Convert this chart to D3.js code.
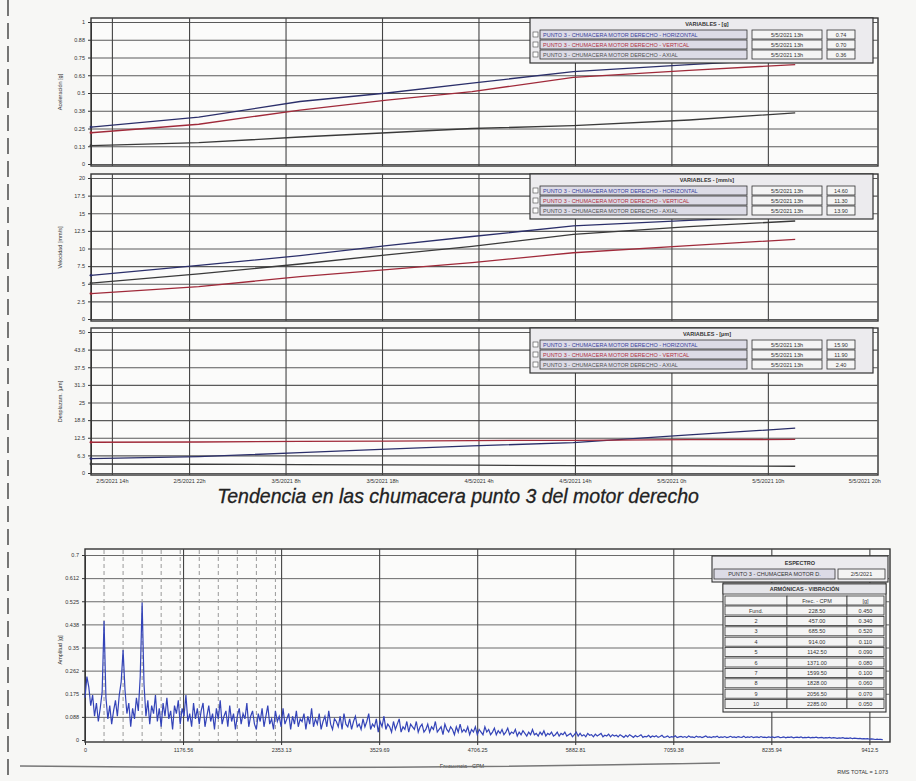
<!DOCTYPE html>
<html>
<head>
<meta charset="utf-8">
<script src="https://cdn.jsdelivr.net/npm/d3@7"></script>
<style>
body { margin: 0; background: #f7f7f5; }
svg { display: block; font-family: "Liberation Sans", Arial, sans-serif; }
</style>
</head>
<body>
<svg id="chart" width="916" height="781"></svg>
<script>
// ---- trend data (3 panels, 3 series each) ----
const sampleTimes = ["2021-05-02 11:50", "2021-05-02 23:00", "2021-05-03 09:30", "2021-05-03 18:30",
  "2021-05-04 03:20", "2021-05-04 13:50", "2021-05-05 01:50", "2021-05-05 12:50"];

const accelHor = [0.26, 0.33, 0.44, 0.50, 0.57, 0.65, 0.70, 0.74];
const accelVer = [0.22, 0.28, 0.38, 0.45, 0.51, 0.61, 0.66, 0.70];
const accelAxi = [0.13, 0.15, 0.19, 0.22, 0.25, 0.27, 0.31, 0.36];

const velHor = [6.2, 7.6, 9.0, 10.4, 11.7, 13.2, 14.0, 14.6];
const velAxi = [5.1, 6.4, 7.8, 9.1, 10.3, 12.0, 13.1, 13.9];
const velVer = [3.6, 4.6, 6.0, 7.0, 8.0, 9.4, 10.4, 11.3];

const despHor = [5.1, 5.8, 7.2, 8.5, 9.6, 10.8, 13.5, 15.9];
const despVer = [10.9, 11.0, 11.2, 11.3, 11.5, 11.6, 11.8, 11.9];
const despAxi = [3.2, 3.1, 3.0, 2.9, 2.8, 2.6, 2.5, 2.4];

const seriesNames = ["PUNTO 3 - CHUMACERA MOTOR DERECHO - HORIZONTAL",
  "PUNTO 3 - CHUMACERA MOTOR DERECHO - VERTICAL",
  "PUNTO 3 - CHUMACERA MOTOR DERECHO - AXIAL"];
const lastDate = "5/5/2021 13h";

const accelTicks = [0, 0.125, 0.25, 0.375, 0.5, 0.625, 0.75, 0.875, 1];
const accelTickLabels = ["0", "0.13", "0.25", "0.38", "0.5", "0.63", "0.75", "0.88", "1"];
const velTicks = [0, 2.5, 5, 7.5, 10, 12.5, 15, 17.5, 20];
const velTickLabels = ["0", "2.5", "5", "7.5", "10", "12.5", "15", "17.5", "20"];
const despTicks = [0, 6.25, 12.5, 18.75, 25, 31.25, 37.5, 43.75, 50];
const despTickLabels = ["0", "6.3", "12.5", "18.8", "25", "31.3", "37.5", "43.8", "50"];

const timeTicks = ["2021-05-02 14:00", "2021-05-02 22:00", "2021-05-03 08:00", "2021-05-03 18:00",
  "2021-05-04 04:00", "2021-05-04 14:00", "2021-05-05 00:00", "2021-05-05 10:00", "2021-05-05 20:00"];
const timeTickLabels = ["2/5/2021 14h", "2/5/2021 22h", "3/5/2021 8h", "3/5/2021 18h",
  "4/5/2021 4h", "4/5/2021 14h", "5/5/2021 0h", "5/5/2021 10h", "5/5/2021 20h"];

// ---- spectrum data ----
const specStep = 22.85; // CPM per bin
const specAmp = [
  0.16, 0.24, 0.20, 0.13, 0.17, 0.09, 0.14, 0.07, 0.12, 0.18, 0.45, 0.16, 0.08, 0.13, 0.06, 0.11, 0.15, 0.09, 0.17, 0.22,
  0.34, 0.19, 0.10, 0.14, 0.05, 0.12, 0.08, 0.16, 0.11, 0.24, 0.52, 0.21, 0.09, 0.15, 0.06, 0.13, 0.10, 0.17, 0.07, 0.12,
  0.05, 0.14, 0.09, 0.16, 0.08, 0.11, 0.04, 0.13, 0.10, 0.15, 0.06, 0.12, 0.09, 0.17, 0.07, 0.10, 0.05, 0.14, 0.08, 0.12,
  0.06, 0.11, 0.14, 0.05, 0.09, 0.13, 0.07, 0.10, 0.04, 0.12, 0.08, 0.15, 0.06, 0.09, 0.11, 0.05, 0.13, 0.07, 0.10, 0.04,
  0.09, 0.12, 0.06, 0.10, 0.08, 0.14, 0.05, 0.09, 0.11, 0.06, 0.04, 0.10, 0.07, 0.12, 0.05, 0.09, 0.13, 0.06, 0.08, 0.04,
  0.11, 0.07, 0.09, 0.05, 0.12, 0.06, 0.08, 0.10, 0.04, 0.09, 0.06, 0.11, 0.05, 0.08, 0.07, 0.10, 0.04, 0.09, 0.06, 0.12,
  0.05, 0.08, 0.06, 0.10, 0.04, 0.07, 0.09, 0.05, 0.11, 0.06, 0.04, 0.08, 0.07, 0.05, 0.09, 0.04, 0.10, 0.06, 0.05, 0.08,
  0.04, 0.07, 0.09, 0.05, 0.06, 0.04, 0.08, 0.05, 0.07, 0.10, 0.04, 0.06, 0.05, 0.08, 0.03, 0.07, 0.05, 0.09, 0.04, 0.06,
  0.05, 0.03, 0.07, 0.04, 0.06, 0.08, 0.03, 0.05, 0.04, 0.07, 0.03, 0.06, 0.05, 0.04, 0.07, 0.03, 0.05, 0.06, 0.03, 0.04,
  0.06, 0.03, 0.05, 0.04, 0.07, 0.03, 0.04, 0.05, 0.02, 0.06, 0.04, 0.03, 0.05, 0.04, 0.02, 0.05, 0.03, 0.06, 0.03, 0.04,
  0.03, 0.05, 0.02, 0.04, 0.03, 0.05, 0.02, 0.04, 0.03, 0.02, 0.05, 0.03, 0.04, 0.02, 0.03, 0.045, 0.02, 0.035, 0.025, 0.04,
  0.02, 0.03, 0.045, 0.02, 0.03, 0.025, 0.04, 0.015, 0.03, 0.02, 0.035, 0.025, 0.015, 0.03, 0.02, 0.04, 0.02, 0.025, 0.015, 0.03,
  0.02, 0.035, 0.015, 0.025, 0.02, 0.03, 0.015, 0.02, 0.03, 0.015, 0.025, 0.02, 0.03, 0.015, 0.02, 0.025, 0.012, 0.02, 0.03, 0.015,
  0.025, 0.015, 0.02, 0.012, 0.025, 0.018, 0.02, 0.012, 0.022, 0.015, 0.02, 0.025, 0.012, 0.018, 0.015, 0.022, 0.012, 0.02, 0.015, 0.018,
  0.012, 0.02, 0.015, 0.01, 0.018, 0.012, 0.02, 0.015, 0.01, 0.017, 0.012, 0.015, 0.02, 0.01, 0.014, 0.012, 0.018, 0.01, 0.015, 0.012,
  0.016, 0.01, 0.013, 0.018, 0.01, 0.012, 0.015, 0.009, 0.013, 0.011, 0.016, 0.009, 0.012, 0.014, 0.01, 0.013, 0.009, 0.015, 0.011, 0.012,
  0.009, 0.014, 0.011, 0.013, 0.009, 0.012, 0.015, 0.01, 0.012, 0.009, 0.013, 0.011, 0.014, 0.009, 0.012, 0.01, 0.013, 0.009, 0.011, 0.014,
  0.01, 0.012, 0.009, 0.013, 0.011, 0.01, 0.014, 0.009, 0.012, 0.01, 0.013, 0.009, 0.011, 0.012, 0.009, 0.013, 0.01, 0.011, 0.009, 0.012,
  0.01, 0.012, 0.009, 0.011, 0.013, 0.009, 0.01, 0.012, 0.008, 0.011, 0.01, 0.012, 0.008, 0.01, 0.011, 0.009, 0.012, 0.008, 0.01, 0.009,
  0.011, 0.008, 0.01, 0.009, 0.011, 0.008, 0.009, 0.01, 0.007, 0.009, 0.008, 0.01, 0.007, 0.009, 0.008, 0.006, 0.008, 0.007, 0.009, 0.006,
  0.007, 0.006, 0.008, 0.005, 0.007, 0.006, 0.005, 0.006, 0.004, 0.005, 0.004, 0.005, 0.003, 0.004, 0.003, 0.002, 0.003, 0.002, 0.002, 0.001
];
const specTicks = [0, 1176.56, 2353.13, 3529.69, 4706.25, 5882.81, 7059.38, 8235.94, 9412.5];
const specTickLabels = ["0", "1176.56", "2353.13", "3529.69", "4706.25", "5882.81", "7059.38", "8235.94", "9412.5"];
const ampTicks = [0, 0.0875, 0.175, 0.2625, 0.35, 0.4375, 0.525, 0.6125, 0.7];
const ampTickLabels = ["0", "0.088", "0.175", "0.262", "0.35", "0.438", "0.525", "0.612", "0.7"];

const harmLabels = ["Fund.", "2", "3", "4", "5", "6", "7", "8", "9", "10"];
const harmFreq = [228.5, 457.0, 685.5, 914.0, 1142.5, 1371.0, 1599.5, 1828.0, 2056.5, 2285.0];
const harmAmp = [0.45, 0.34, 0.52, 0.11, 0.09, 0.08, 0.10, 0.06, 0.07, 0.05];
const rmsTotal = "RMS TOTAL = 1.073";

// ---------------------------------------------------------------
const svg = d3.select("#chart");
const parse = d3.timeParse("%Y-%m-%d %H:%M");
const seriesColors = ["#2b2f6a", "#a02a3a", "#3a3a3a"];
const legendText = ["#3a3f9a", "#b03040", "#505050"];

// scan margin
svg.append("line").attr("x1", 8).attr("x2", 8).attr("y1", 0).attr("y2", 781)
  .attr("stroke", "#555").attr("stroke-width", 1.6).attr("stroke-dasharray", "16,7");

const x = d3.scaleTime()
  .domain([parse("2021-05-02 11:50"), parse("2021-05-05 21:25")])
  .range([91, 878]);

const panels = [
  { top: 18, bottom: 166, ticks: accelTicks, labels: accelTickLabels, unit: "[g]",
    ylabel: "Aceleración [g]", series: [accelHor, accelVer, accelAxi] },
  { top: 174, bottom: 321, ticks: velTicks, labels: velTickLabels, unit: "[mm/s]",
    ylabel: "Velocidad [mm/s]", series: [velHor, velVer, velAxi] },
  { top: 328, bottom: 475, ticks: despTicks, labels: despTickLabels, unit: "[µm]",
    ylabel: "Desplazam. [µm]", series: [despHor, despVer, despAxi] }
];

panels.forEach(p => {
  const g = svg.append("g");
  const y = d3.scaleLinear().domain([0, d3.max(p.ticks)]).range([p.bottom - 2, p.top + 4]);

  g.append("rect").attr("x", 91).attr("y", p.top).attr("width", 787).attr("height", p.bottom - p.top)
    .attr("fill", "#fbfbfa").attr("stroke", "#333").attr("stroke-width", 1.4);

  // horizontal grid
  g.append("g").attr("transform", "translate(91,0)")
    .call(d3.axisRight(y).tickValues(p.ticks).tickSize(787).tickFormat(""))
    .call(a => a.select(".domain").remove())
    .selectAll("line").attr("stroke", "#5a5a5a").attr("stroke-width", 1.1);

  // vertical grid
  g.append("g").attr("transform", `translate(0,${p.bottom})`)
    .call(d3.axisTop(x).tickValues(timeTicks.slice(0, -1).map(parse)).tickSize(p.bottom - p.top).tickFormat(""))
    .call(a => a.select(".domain").remove())
    .selectAll("line").attr("stroke", "#444").attr("stroke-width", 1.1);

  // y axis labels
  g.append("g").attr("transform", "translate(91,0)")
    .call(d3.axisLeft(y).tickValues(p.ticks).tickSize(3).tickFormat((d, i) => p.labels[i]))
    .call(a => a.select(".domain").attr("stroke", "#333"))
    .call(a => a.selectAll("text").attr("font-size", 5.5).attr("fill", "#333"))
    .call(a => a.selectAll("line").attr("stroke", "#333"));

  g.append("text").attr("transform", `translate(62,${(p.top + p.bottom) / 2}) rotate(-90)`)
    .attr("text-anchor", "middle").attr("font-size", 5.5).attr("fill", "#333").text(p.ylabel);

  // lines
  const line = d3.line().x((d, i) => x(parse(sampleTimes[i]))).y(d => y(d));
  p.series.forEach((s, si) => {
    g.append("path").datum(s).attr("d", line).attr("fill", "none")
      .attr("stroke", seriesColors[si]).attr("stroke-width", 1.3);
    g.append("circle").attr("cx", x(parse(sampleTimes[0]))).attr("cy", y(s[0])).attr("r", 1.4)
      .attr("fill", seriesColors[si]);
  });

  // legend box
  const lx = 530, ly = p.top, lw = 343, lh = 45;
  const lg = g.append("g");
  lg.append("rect").attr("x", lx).attr("y", ly).attr("width", lw).attr("height", lh)
    .attr("fill", "#ecebee").attr("stroke", "#333").attr("stroke-width", 1.2);
  lg.append("text").attr("x", 707).attr("y", ly + 8).attr("text-anchor", "middle")
    .attr("font-size", 5.5).attr("font-weight", "bold").attr("fill", "#333")
    .text("VARIABLES - " + p.unit);
  p.series.forEach((s, si) => {
    const ry = ly + 12 + si * 10;
    lg.append("rect").attr("x", 533).attr("y", ry + 2).attr("width", 5).attr("height", 5)
      .attr("fill", "#fff").attr("stroke", "#444").attr("stroke-width", 0.6);
    lg.append("rect").attr("x", 540).attr("y", ry).attr("width", 207).attr("height", 9)
      .attr("fill", "#dcdbe6").attr("stroke", "#333").attr("stroke-width", 0.8);
    lg.append("text").attr("x", 543).attr("y", ry + 6.8).attr("font-size", 5.5)
      .attr("fill", legendText[si]).text(seriesNames[si]);
    lg.append("rect").attr("x", 752).attr("y", ry).attr("width", 70).attr("height", 9)
      .attr("fill", "#f4f4f4").attr("stroke", "#333").attr("stroke-width", 0.8);
    lg.append("text").attr("x", 787).attr("y", ry + 6.8).attr("text-anchor", "middle")
      .attr("font-size", 5.5).attr("fill", "#333").text(lastDate);
    lg.append("rect").attr("x", 827).attr("y", ry).attr("width", 28).attr("height", 9)
      .attr("fill", "#f4f4f4").attr("stroke", "#333").attr("stroke-width", 0.8);
    lg.append("text").attr("x", 841).attr("y", ry + 6.8).attr("text-anchor", "middle")
      .attr("font-size", 5.5).attr("fill", "#333").text(d3.format(".2f")(s[s.length - 1]));
  });
});

// time axis labels (bottom panel)
svg.append("g").attr("transform", "translate(0,475)")
  .call(d3.axisBottom(x).tickValues(timeTicks.map(parse)).tickSize(0).tickPadding(4)
    .tickFormat((d, i) => timeTickLabels[i]))
  .call(a => a.select(".domain").remove())
  .selectAll("text").attr("font-size", 5.5).attr("fill", "#333");

svg.append("text").attr("x", 458).attr("y", 503).attr("text-anchor", "middle")
  .attr("font-size", 19.5).attr("font-style", "italic").attr("fill", "#222")
  .attr("stroke", "#222").attr("stroke-width", 0.3)
  .text("Tendencia en las chumacera punto 3 del motor derecho");

// ---------------- spectrum ----------------
const sx = d3.scaleLinear().domain([0, 9660]).range([85, 890]);
const sy = d3.scaleLinear().domain([0, 0.7]).range([740, 555]);
const sg = svg.append("g");

sg.append("rect").attr("x", 85).attr("y", 549).attr("width", 805).attr("height", 193)
  .attr("fill", "#fbfbfa").attr("stroke", "#333").attr("stroke-width", 1.4);

sg.append("g").attr("transform", "translate(85,0)")
  .call(d3.axisRight(sy).tickValues(ampTicks.slice(1)).tickSize(805).tickFormat(""))
  .call(a => a.select(".domain").remove())
  .selectAll("line").attr("stroke", "#6a6a6a").attr("stroke-width", 1);

sg.append("g").attr("transform", "translate(0,742)")
  .call(d3.axisTop(sx).tickValues(specTicks.slice(1)).tickSize(193).tickFormat(""))
  .call(a => a.select(".domain").remove())
  .selectAll("line").attr("stroke", "#444").attr("stroke-width", 1.1);

// harmonic markers
sg.append("g").selectAll("line").data(harmFreq).join("line")
  .attr("x1", d => sx(d)).attr("x2", d => sx(d)).attr("y1", 550).attr("y2", 741)
  .attr("stroke", "#999").attr("stroke-width", 1).attr("stroke-dasharray", "4,3");

sg.append("g").attr("transform", "translate(85,0)")
  .call(d3.axisLeft(sy).tickValues(ampTicks).tickSize(3).tickFormat((d, i) => ampTickLabels[i]))
  .call(a => a.select(".domain").attr("stroke", "#333"))
  .call(a => a.selectAll("text").attr("font-size", 5.5).attr("fill", "#333"))
  .call(a => a.selectAll("line").attr("stroke", "#333"));

sg.append("g").attr("transform", "translate(0,742)")
  .call(d3.axisBottom(sx).tickValues(specTicks).tickSize(3).tickFormat((d, i) => specTickLabels[i]))
  .call(a => a.select(".domain").remove())
  .call(a => a.selectAll("text").attr("font-size", 5.5).attr("fill", "#333"))
  .call(a => a.selectAll("line").attr("stroke", "#333"));

sg.append("path").datum(specAmp)
  .attr("d", d3.line().x((d, i) => sx(i * specStep)).y(d => sy(d)))
  .attr("fill", "none").attr("stroke", "#3444b8").attr("stroke-width", 1.2);

sg.append("text").attr("transform", "translate(62,650) rotate(-90)").attr("text-anchor", "middle")
  .attr("font-size", 5.5).attr("fill", "#333").text("Amplitud [g]");
sg.append("text").attr("x", 462).attr("y", 768).attr("text-anchor", "middle")
  .attr("font-size", 5.5).attr("fill", "#333").text("Frecuencia - CPM");
sg.append("text").attr("x", 888).attr("y", 774).attr("text-anchor", "end")
  .attr("font-size", 5.5).attr("fill", "#333").text(rmsTotal);

// table
const tg = sg.append("g").attr("font-size", 5.5).attr("fill", "#333");
function cell(x0, y0, w, h, txt, opt = {}) {
  tg.append("rect").attr("x", x0).attr("y", y0).attr("width", w).attr("height", h)
    .attr("fill", opt.fill || "#f4f4f4").attr("stroke", "#333").attr("stroke-width", 0.8);
  if (txt) tg.append("text").attr("x", x0 + w / 2).attr("y", y0 + h / 2 + 2)
    .attr("text-anchor", "middle").attr("font-weight", opt.bold ? "bold" : null).text(txt);
}
tg.append("rect").attr("x", 712).attr("y", 556).attr("width", 176).attr("height", 26)
  .attr("fill", "#ecebee").attr("stroke", "#333").attr("stroke-width", 1.1);
tg.append("text").attr("x", 800).attr("y", 565).attr("text-anchor", "middle").attr("font-weight", "bold").text("ESPECTRO");
cell(714, 569, 121, 10, "PUNTO 3 - CHUMACERA MOTOR D.", { fill: "#dcdbe6" });
cell(838, 569, 47, 10, "2/5/2021");
tg.append("rect").attr("x", 723).attr("y", 583).attr("width", 163).attr("height", 129)
  .attr("fill", "#f4f4f4").attr("stroke", "#333").attr("stroke-width", 1.1);
cell(723, 584, 163, 10, "ARMÓNICAS - VIBRACIÓN", { fill: "#e6e6ea", bold: true });
cell(725, 596, 62, 9, "");
cell(787, 596, 60, 9, "Frec. - CPM");
cell(847, 596, 37, 9, "[g]");
harmLabels.forEach((h, i) => {
  const ry = 606 + i * 10.4;
  cell(725, ry, 62, 9, h);
  cell(787, ry, 60, 9, d3.format(".2f")(harmFreq[i]));
  cell(847, ry, 37, 9, d3.format(".3f")(harmAmp[i]));
});

// page edge
svg.append("path").attr("d", "M20,766 Q360,770 720,763").attr("fill", "none")
  .attr("stroke", "#777").attr("stroke-width", 1.5);
</script>
</body>
</html>
